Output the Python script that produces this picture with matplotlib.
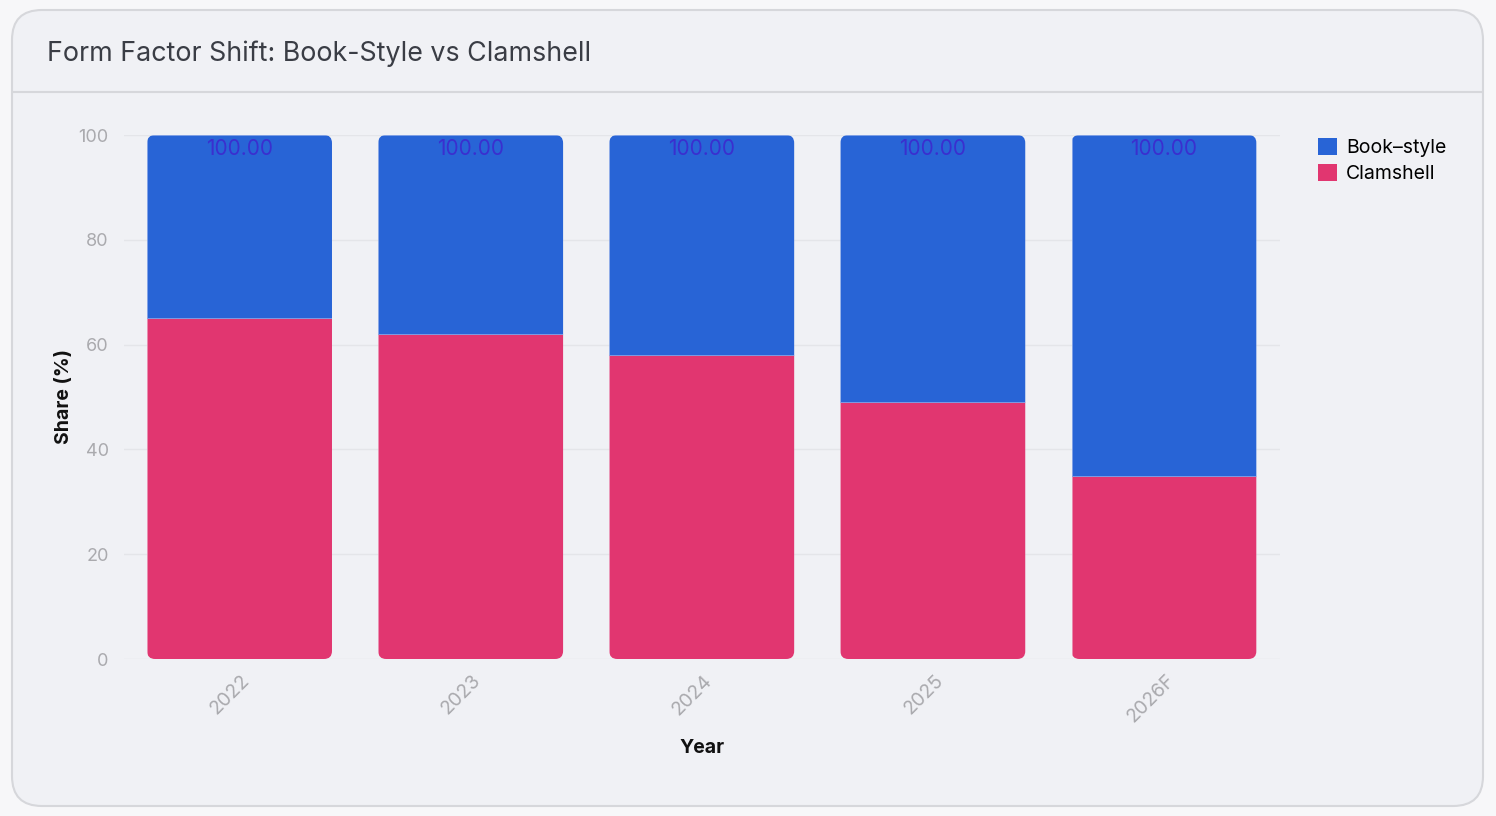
import matplotlib
matplotlib.use("Agg")
import matplotlib.pyplot as plt
from matplotlib.patches import FancyBboxPatch, Patch
from matplotlib.transforms import ScaledTranslation
import numpy as np

plt.rcParams['font.family'] = ['Inter', 'DejaVu Sans']

years = ["2022", "2023", "2024", "2025", "2026F"]
clamshell = [65, 62, 58, 49, 35]
book_style = [35, 38, 42, 51, 65]
totals_label = ["100.00", "100.00", "100.00", "100.00", "100.00"]

BLUE = "#2864D6"
PINK = "#E13670"

W, H = 1496, 816
fig = plt.figure(figsize=(W / 100, H / 100), dpi=100)
fig.patch.set_facecolor("#F7F7F9")

# card
card = FancyBboxPatch((12 / W, 1 - 806 / H), (1483 - 12) / W, (806 - 10) / H,
                      boxstyle="round,pad=0,rounding_size=0.02",
                      mutation_aspect=W / H,
                      transform=fig.transFigure, facecolor="#F0F1F5",
                      edgecolor="#D6D7DB", linewidth=1.5, zorder=-10)
fig.patches.append(card)
fig.add_artist(plt.Line2D([13 / W, 1482 / W], [1 - 92 / H, 1 - 92 / H],
                          transform=fig.transFigure, color="#D6D7DB", lw=1.5,
                          zorder=-9))
fig.text(47 / W, 1 - 54 / H, "Form Factor Shift: Book-Style vs Clamshell",
         fontsize=19.3, color="#3A3D45", va="center", ha="left")

ax = fig.add_axes([124 / W, 1 - 659 / H, (1279.5 - 124) / W, (659 - 135) / H])
ax.set_facecolor("none")
ax.set_zorder(1)
x = np.arange(len(years))
width = 0.8
b1 = ax.bar(x, clamshell, width, color=PINK, label="Clamshell", zorder=3,
            edgecolor="#E98AAE", linewidth=0.6)
b2 = ax.bar(x, book_style, width, bottom=clamshell, color=BLUE,
            label="Book\u2013style", zorder=3, edgecolor="#7E9FE6", linewidth=0.6)

ax.set_xlim(-0.5, len(years) - 0.5)
ax.set_ylim(0, 100)

# rounded clipping for each stacked bar
px_x = (1279.5 - 124) / len(years)
px_y = (659 - 135) / 100
r = 8 / px_x
aspect = (8 / px_y) / r
for i in range(len(years)):
    total = clamshell[i] + book_style[i]
    clip = FancyBboxPatch((x[i] - width / 2, 0), width, total,
                          boxstyle=f"round,pad=0,rounding_size={r}",
                          mutation_aspect=aspect, transform=ax.transData,
                          facecolor="none", edgecolor="none")
    ax.add_patch(clip)
    b1[i].set_clip_path(clip)
    b2[i].set_clip_path(clip)
    ax.text(x[i], total - 2.6, totals_label[i], ha="center", va="center",
            fontsize=15, color="#3A2FCF", zorder=5)

ax.set_yticks([0, 20, 40, 60, 80, 100])
ax.yaxis.grid(True, color="#E4E5E9", linewidth=1, zorder=0)
ax.set_axisbelow(True)
for s in ax.spines.values():
    s.set_visible(False)
ax.tick_params(axis="y", length=0, pad=11, labelsize=13, labelcolor="#AAAAAE")
ax.tick_params(axis="x", length=0, pad=9, labelsize=14, labelcolor="#AAAAAE")
ax.set_xticks(x)
ax.set_xticklabels(years, rotation=45, ha="right", va="top")
shift = ScaledTranslation(14 / 100, 0, fig.dpi_scale_trans)
for lbl in ax.get_xticklabels():
    lbl.set_transform(lbl.get_transform() + shift)

ax.set_ylabel("Share (%)", fontsize=14, fontweight="bold", color="#111111", labelpad=4)
ax.set_xlabel("Year", fontsize=14, fontweight="bold", color="#111111", labelpad=9)

handles = [Patch(facecolor=BLUE, label="Book\u2013style"),
           Patch(facecolor=PINK, label="Clamshell")]
leg = fig.legend(handles=handles, loc="upper left",
                 bbox_to_anchor=(1310 / W, 1 - 130 / H), frameon=False,
                 fontsize=14, handlelength=1.0, handleheight=1.0,
                 handletextpad=0.45, labelspacing=0.35, borderaxespad=0)

fig.savefig("out.png", dpi=100, facecolor=fig.get_facecolor())
